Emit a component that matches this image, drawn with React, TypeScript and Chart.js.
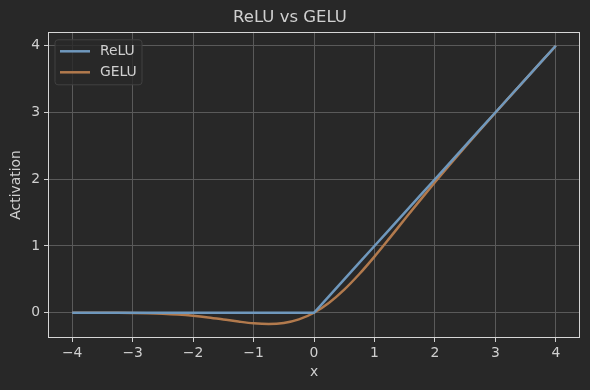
import React, { useEffect, useRef } from "react";
import { Chart, registerables } from "chart.js";

Chart.register(...registerables);

const xValues = [-4, -3.75, -3.5, -3.25, -3, -2.75, -2.5, -2.25, -2, -1.75, -1.5, -1.25, -1, -0.75, -0.5, -0.25, 0, 0.25, 0.5, 0.75, 1, 1.25, 1.5, 1.75, 2, 2.25, 2.5, 2.75, 3, 3.25, 3.5, 3.75, 4];
const reluValues = [0, 0, 0, 0, 0, 0, 0, 0, 0, 0, 0, 0, 0, 0, 0, 0, 0, 0.25, 0.5, 0.75, 1, 1.25, 1.5, 1.75, 2, 2.25, 2.5, 2.75, 3, 3.25, 3.5, 3.75, 4];
const geluValues = [-0.0001, -0.0003, -0.0008, -0.0019, -0.004, -0.0082, -0.0155, -0.0275, -0.0455, -0.0701, -0.1002, -0.132, -0.1587, -0.17, -0.1543, -0.1003, 0, 0.1497, 0.3457, 0.58, 0.8413, 1.118, 1.3998, 1.6799, 1.9545, 2.2225, 2.4845, 2.7418, 2.996, 3.2481, 3.4992, 3.7497, 3.9999];
const xTicks = [-4, -3, -2, -1, 0, 1, 2, 3, 4];
const yTicks = [0, 1, 2, 3, 4];
const seriesNames = ["ReLU", "GELU"];

const BG = "#282828";
const TEXT = "#d0d0d0";
const GRID = "#5a5a5a";
const FRAME = "#d6d6d6";
const COLORS = ["#6f98bd", "#b27a4d"];
const FONT = "'DejaVu Sans', sans-serif";

const fmt = (v: number) => (v < 0 ? "\u2212" + Math.abs(v) : String(v));

export default function App() {
  const ref = useRef<HTMLCanvasElement>(null);
  useEffect(() => {
    document.body.style.margin = "0";
    document.body.style.background = BG;
    const ctx = ref.current!;
    const framePlugin = {
      id: "frameLegend",
      beforeDraw(chart: any) {
        const c = chart.ctx;
        c.save();
        c.fillStyle = BG;
        c.fillRect(0, 0, chart.width, chart.height);
        c.restore();
      },
      afterDatasetsDraw(chart: any) {
        const c = chart.ctx;
        const a = chart.chartArea;
        c.save();
        c.strokeStyle = FRAME;
        c.lineWidth = 1;
        c.strokeRect(Math.round(a.left) + 0.5, Math.round(a.top) + 0.5, Math.round(a.right - a.left) - 1, Math.round(a.bottom - a.top) - 1);
        // legend
        const lx = a.left + 7, ly = a.top + 8, lw = 87, lh = 45;
        c.fillStyle = "rgba(40,40,40,0.8)";
        c.strokeStyle = "#404040";
        c.beginPath();
        const r = 3;
        c.moveTo(lx + r, ly);
        c.lineTo(lx + lw - r, ly);
        c.quadraticCurveTo(lx + lw, ly, lx + lw, ly + r);
        c.lineTo(lx + lw, ly + lh - r);
        c.quadraticCurveTo(lx + lw, ly + lh, lx + lw - r, ly + lh);
        c.lineTo(lx + r, ly + lh);
        c.quadraticCurveTo(lx, ly + lh, lx, ly + lh - r);
        c.lineTo(lx, ly + r);
        c.quadraticCurveTo(lx, ly, lx + r, ly);
        c.closePath();
        c.fill();
        c.stroke();
        c.font = "13.9px " + FONT;
        c.textBaseline = "middle";
        c.textAlign = "left";
        seriesNames.forEach((name, i) => {
          const y = ly + 11.5 + i * 21;
          c.strokeStyle = COLORS[i];
          c.lineWidth = 2.5;
          c.beginPath();
          c.moveTo(lx + 5, y);
          c.lineTo(lx + 35, y);
          c.stroke();
          c.fillStyle = TEXT;
          c.fillText(name, lx + 45, y);
        });
        c.restore();
      },
    };
    const chart = new Chart(ctx, {
      type: "line",
      data: {
        datasets: [
          {
            label: seriesNames[0],
            data: xValues.map((x, i) => ({ x, y: reluValues[i] })),
            borderColor: COLORS[0],
            borderWidth: 2.5,
            pointRadius: 0,
            tension: 0,
          },
          {
            label: seriesNames[1],
            data: xValues.map((x, i) => ({ x, y: geluValues[i] })),
            borderColor: COLORS[1],
            borderWidth: 2.5,
            pointRadius: 0,
            cubicInterpolationMode: "monotone",
          },
        ],
      },
      plugins: [framePlugin],
      options: {
        responsive: false,
        animation: false,
        layout: { padding: { left: 0, right: 10, top: 0, bottom: 0 } },
        plugins: {
          legend: { display: false },
          tooltip: { enabled: false },
          title: {
            display: true,
            text: "ReLU vs GELU",
            color: TEXT,
            font: { family: FONT, size: 16.5, weight: "normal" },
            padding: { top: 8, bottom: 4 },
          },
        },
        scales: {
          x: {
            type: "linear",
            min: -4.4,
            max: 4.4,
            afterBuildTicks: (s: any) => {
              s.ticks = xTicks.map((v) => ({ value: v }));
            },
            afterFit: (s: any) => {
              s.height = 52;
            },
            ticks: {
              color: TEXT,
              font: { family: FONT, size: 13.9 },
              padding: 3,
              maxRotation: 0,
              callback: (v: any) => fmt(Number(v)),
            },
            grid: { color: GRID, tickColor: TEXT, tickLength: 4, lineWidth: 1 },
            border: { display: false },
            title: {
              display: true,
              text: "x",
              color: TEXT,
              font: { family: FONT, size: 13.9 },
              padding: { top: 2, bottom: 9 },
            },
          },
          y: {
            type: "linear",
            min: -0.3785,
            max: 4.2085,
            afterBuildTicks: (s: any) => {
              s.ticks = yTicks.map((v) => ({ value: v }));
            },
            afterFit: (s: any) => {
              s.width = 48;
            },
            ticks: {
              color: TEXT,
              font: { family: FONT, size: 13.9 },
              padding: 4,
              callback: (v: any) => fmt(Number(v)),
            },
            grid: { color: GRID, tickColor: TEXT, tickLength: 4, lineWidth: 1 },
            border: { display: false },
            title: {
              display: true,
              text: "Activation",
              color: TEXT,
              font: { family: FONT, size: 13.9 },
              padding: { top: 8, bottom: 4 },
            },
          },
        },
      },
    } as any);
    return () => chart.destroy();
  }, []);
  return (
    <div style={{ position: "fixed", left: 0, top: 0, width: 590, height: 390, background: BG }}>
      <canvas ref={ref} width={590} height={390} />
    </div>
  );
}
